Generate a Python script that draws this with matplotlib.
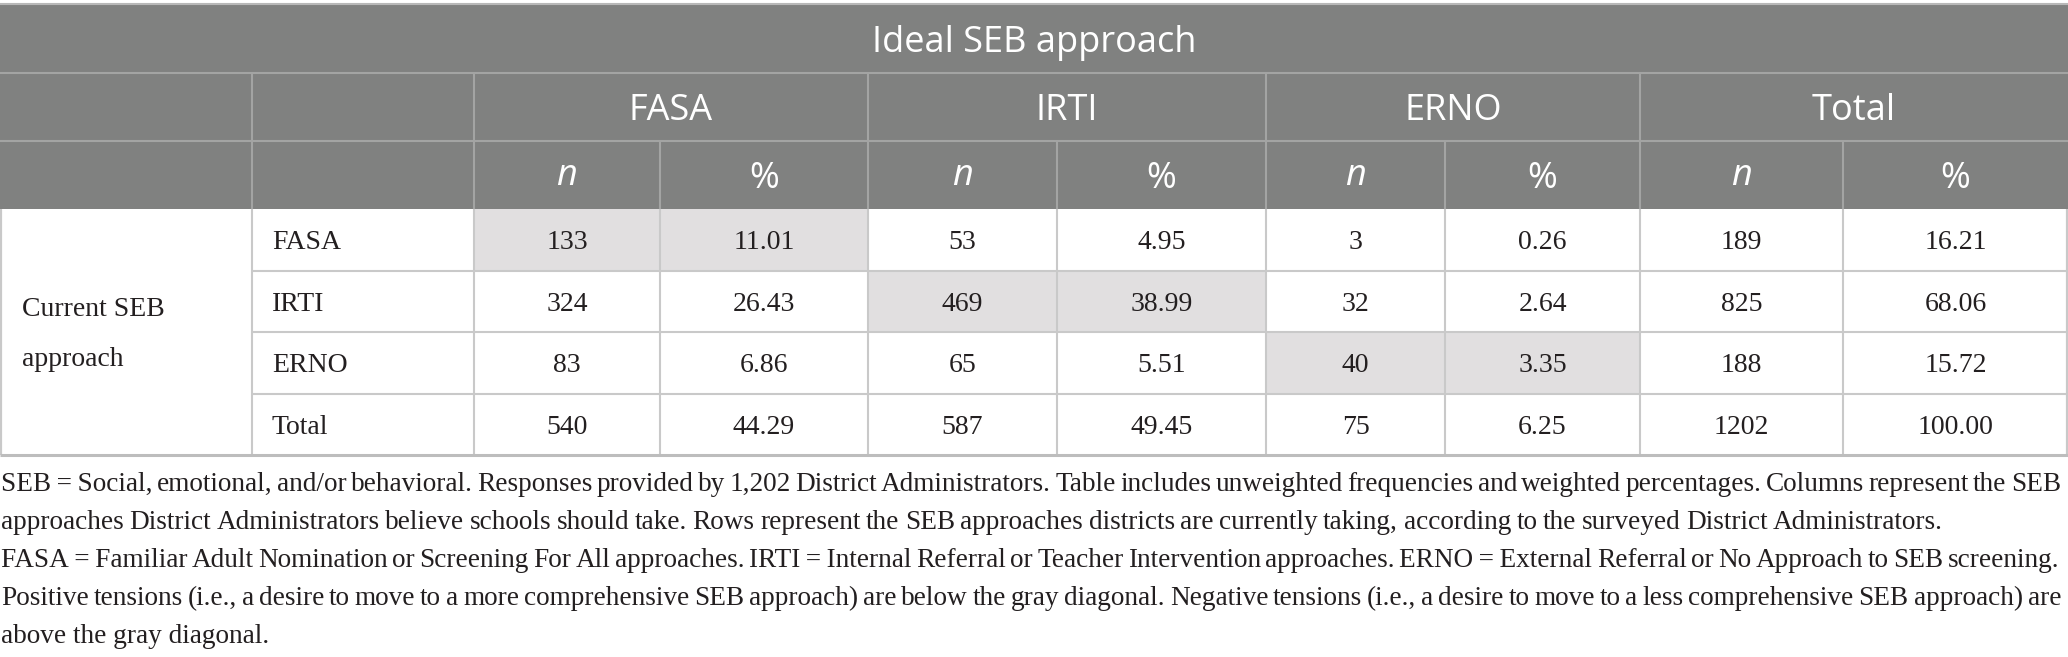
import matplotlib
matplotlib.use("Agg")
import matplotlib.pyplot as plt
from matplotlib.patches import Rectangle

# ---------------- data ----------------
title = "Ideal SEB approach"
ideal_groups = ["FASA", "IRTI", "ERNO", "Total"]
sub_labels = ["n", "%"]
row_group = ["Current SEB", "approach"]
row_labels = ["FASA", "IRTI", "ERNO", "Total"]
n_fasa = [133, 324, 83, 540]
pct_fasa = [11.01, 26.43, 6.86, 44.29]
n_irti = [53, 469, 65, 587]
pct_irti = [4.95, 38.99, 5.51, 49.45]
n_erno = [3, 32, 40, 75]
pct_erno = [0.26, 2.64, 3.35, 6.25]
n_total = [189, 825, 188, 1202]
pct_total = [16.21, 68.06, 15.72, 100.00]
highlight = [(0, 0), (1, 1), (2, 2)]  # (row, group) diagonal cells

notes = [
    "SEB\u2009=\u2009Social, emotional, and/or behavioral. Responses provided by 1,202 District Administrators. Table includes unweighted frequencies and weighted percentages. Columns represent the SEB",
    "approaches District Administrators believe schools should take. Rows represent the SEB approaches districts are currently taking, according to the surveyed District Administrators.",
    "FASA\u2009=\u2009Familiar Adult Nomination or Screening For All approaches. IRTI\u2009=\u2009Internal Referral or Teacher Intervention approaches. ERNO\u2009=\u2009External Referral or No Approach to SEB screening.",
    "Positive tensions (i.e., a desire to move to a more comprehensive SEB approach) are below the gray diagonal. Negative tensions (i.e., a desire to move to a less comprehensive SEB approach) are",
    "above the gray diagonal.",
]
notes_right = [2061, 1943, 2059, 2061, None]

# ---------------- layout ----------------
W, H = 2068, 657
col_x = [0, 252, 474, 660, 868, 1057, 1266, 1445, 1640, 1843, 2068]
row_y = [5, 73, 141, 209, 271, 332, 394, 455]
note_base = [491, 529, 567, 605, 643]

HDR_BG = "#808180"
HDR_LINE = "#a3a4a3"
BODY_LINE = "#c9c9c9"
HILITE = "#e1dfe0"
TXT = "#231f20"

SANS = ["Open Sans", "DejaVu Sans"]
SERIF = ["Liberation Serif", "DejaVu Serif"]
HDR_PT = 26.0
BODY_PT = 20.0
NOTE_PT = 19.6

fig = plt.figure(figsize=(W / 100, H / 100), dpi=100)
ax = fig.add_axes([0, 0, 1, 1])
ax.set_xlim(0, W)
ax.set_ylim(H, 0)
ax.axis("off")


def base(yc, pt, cap):
    return yc + cap * pt * 100 / 72 / 2


def hline(x0, x1, y, c, lw):
    ax.plot([x0, x1], [y, y], color=c, lw=lw, solid_capstyle="butt", zorder=3)


def vline(x, y0, y1, c, lw):
    ax.plot([x, x], [y0, y1], color=c, lw=lw, solid_capstyle="butt", zorder=3)


# header background
ax.add_patch(Rectangle((0, row_y[0]), W, row_y[3] - row_y[0], color=HDR_BG, lw=0, zorder=1))

# highlighted diagonal cells
for r, g in highlight:
    x0 = col_x[2 + 2 * g]
    x1 = col_x[4 + 2 * g]
    ax.add_patch(Rectangle((x0, row_y[3 + r]), x1 - x0, row_y[4 + r] - row_y[3 + r],
                           color=HILITE, lw=0, zorder=1))

# header lines
hline(0, W, row_y[0] - 1, "#b8b8b8", 1.5)
hline(0, W, row_y[1], HDR_LINE, 1.5)
hline(0, W, row_y[2], HDR_LINE, 1.5)
group_edges = [col_x[0], col_x[1], col_x[2], col_x[4], col_x[6], col_x[8], col_x[10]]
for x in group_edges[1:-1]:
    vline(x, row_y[1], row_y[2], HDR_LINE, 1.5)
for x in col_x[1:-1]:
    vline(x, row_y[2], row_y[3], HDR_LINE, 1.5)

# body lines
for y in row_y[4:7]:
    hline(col_x[1], W, y, BODY_LINE, 1.5)
for x in col_x[1:-1]:
    vline(x, row_y[3], row_y[7], BODY_LINE, 1.5)
vline(0.8, row_y[3], row_y[7], BODY_LINE, 1.6)
vline(W - 0.8, row_y[3], row_y[7], BODY_LINE, 1.6)
hline(0, W, row_y[7], "#bdbdbd", 2.2)

# header texts
CAP_SANS = 0.714
yc = (row_y[0] + row_y[1]) / 2
ax.text(W / 2, base(yc, HDR_PT, CAP_SANS), title, ha="center", va="baseline",
        color="white", family=SANS, fontsize=HDR_PT, zorder=4)
yc = (row_y[1] + row_y[2]) / 2
for g, lab in enumerate(ideal_groups):
    xc = (col_x[2 + 2 * g] + col_x[4 + 2 * g]) / 2
    ax.text(xc, base(yc, HDR_PT, CAP_SANS), lab, ha="center", va="baseline",
            color="white", family=SANS, fontsize=HDR_PT, zorder=4)
yc = (row_y[2] + row_y[3]) / 2
for g in range(len(ideal_groups)):
    for s, lab in enumerate(sub_labels):
        xc = (col_x[2 + 2 * g + s] + col_x[3 + 2 * g + s]) / 2
        ax.text(xc, base(yc, HDR_PT, CAP_SANS if lab == "%" else 0.53), lab,
                ha="center", va="baseline", color="white", family=SANS,
                fontsize=HDR_PT, fontstyle="italic" if lab == "n" else "normal", zorder=4)

# body texts
CAP_SERIF = 0.662
columns = [(n_fasa, pct_fasa), (n_irti, pct_irti), (n_erno, pct_erno), (n_total, pct_total)]
for r, lab in enumerate(row_labels):
    yc = (row_y[3 + r] + row_y[4 + r]) / 2
    yb = base(yc, BODY_PT, CAP_SERIF)
    ax.text(col_x[1] + 20, yb, lab, ha="left", va="baseline", color=TXT,
            family=SERIF, fontsize=BODY_PT, zorder=4)
    for g, (nv, pv) in enumerate(columns):
        xc = (col_x[2 + 2 * g] + col_x[3 + 2 * g]) / 2
        ax.text(xc, yb, f"{nv[r]}", ha="center", va="baseline", color=TXT,
                family=SERIF, fontsize=BODY_PT, zorder=4)
        xc = (col_x[3 + 2 * g] + col_x[4 + 2 * g]) / 2
        ax.text(xc, yb, f"{pv[r]:.2f}", ha="center", va="baseline", color=TXT,
                family=SERIF, fontsize=BODY_PT, zorder=4)

ymid = (row_y[3] + row_y[7]) / 2
ax.text(22, ymid - 25 + BODY_PT * 100 / 72 * CAP_SERIF / 2, row_group[0], ha="left",
        va="baseline", color=TXT, family=SERIF, fontsize=BODY_PT, zorder=4)
ax.text(22, ymid + 25 + BODY_PT * 100 / 72 * CAP_SERIF / 2, row_group[1], ha="left",
        va="baseline", color=TXT, family=SERIF, fontsize=BODY_PT, zorder=4)

# notes (justified lines)
renderer = fig.canvas.get_renderer()
for line, yb, xr in zip(notes, note_base, notes_right):
    if xr is None:
        ax.text(1, yb, line, ha="left", va="baseline", color=TXT, family=SERIF,
                fontsize=NOTE_PT, zorder=4)
        continue
    words = line.split(" ")
    texts = [ax.text(0, yb, w, ha="left", va="baseline", color=TXT, family=SERIF,
                     fontsize=NOTE_PT, zorder=4) for w in words]
    widths = [t.get_window_extent(renderer).width for t in texts]
    gap = max(3.0, (xr - 1 - sum(widths)) / (len(words) - 1))
    x = 1
    for t, w in zip(texts, widths):
        t.set_x(x)
        x += w + gap

fig.savefig("out.png", dpi=100)
